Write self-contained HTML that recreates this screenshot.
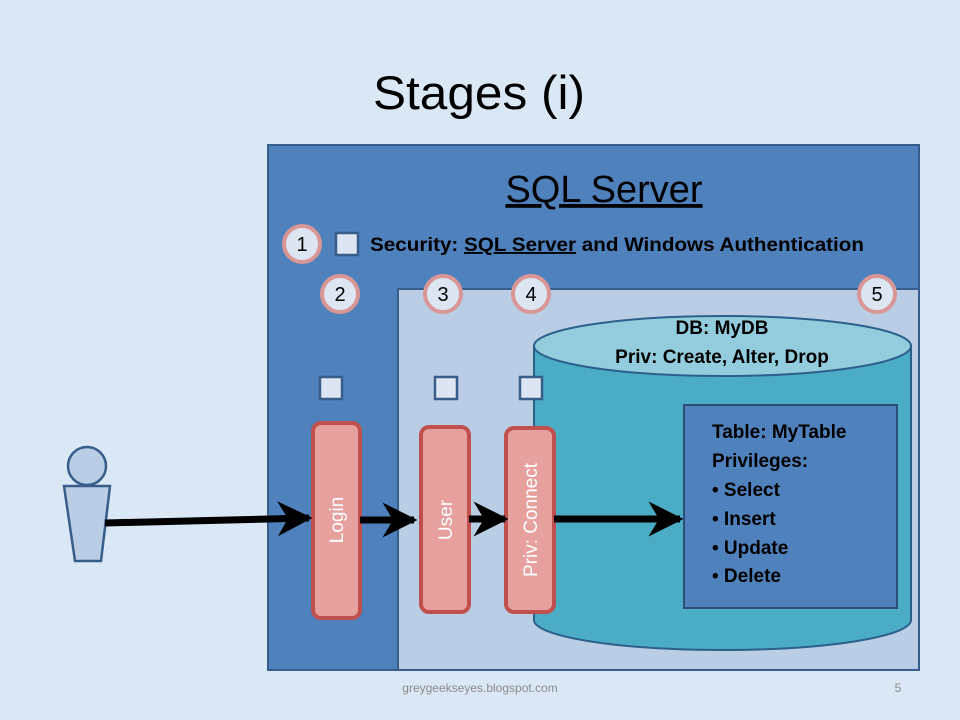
<!DOCTYPE html>
<html><head><style>
html,body{margin:0;padding:0;}
body{width:960px;height:720px;background:#d9e7f6;overflow:hidden;}
svg{display:block;font-family:"Liberation Sans",sans-serif;}
</style></head><body>
<svg width="960" height="720" viewBox="0 0 960 720">
<defs>
<marker id="ah" viewBox="0 0 10 10" refX="9" refY="5" markerWidth="5" markerHeight="5" orient="auto" markerUnits="strokeWidth">
<path d="M0,0 L10,5 L0,10 L3,5 z" fill="#000"/>
</marker>
</defs>
<rect width="960" height="720" fill="#dae8f6"/>
<text x="479" y="109" font-size="47" text-anchor="middle" fill="#000" textLength="212" lengthAdjust="spacingAndGlyphs">Stages (i)</text>
<rect x="268" y="145" width="651" height="525" fill="#4f81bd" stroke="#385d8a" stroke-width="2"/>
<text x="604" y="202" font-size="38" text-anchor="middle" fill="#000" text-decoration="underline">SQL Server</text>
<rect x="398" y="289" width="521" height="381" fill="#b9cde5" stroke="#385d8a" stroke-width="2"/>
<path d="M534,346 L534,620 A188.5,30 0 0 0 911,620 L911,346 Z" fill="#4bacc6" stroke="#2c5f8a" stroke-width="2"/>
<ellipse cx="722.5" cy="346" rx="188.5" ry="30" fill="#93cddd" stroke="#2c5f8a" stroke-width="2"/>
<text x="722" y="334" font-size="19" text-anchor="middle" font-weight="bold" fill="#000">DB: MyDB</text>
<text x="722" y="363" font-size="19" text-anchor="middle" font-weight="bold" fill="#000">Priv: Create, Alter, Drop</text>
<rect x="684" y="405" width="213" height="203" fill="#4f81bd" stroke="#2c4d75" stroke-width="2"/>
<g font-size="19" font-weight="bold" fill="#000">
<text x="712" y="438">Table: MyTable</text>
<text x="712" y="467">Privileges:</text>
<text x="712" y="496">• Select</text>
<text x="712" y="525">• Insert</text>
<text x="712" y="554">• Update</text>
<text x="712" y="582">• Delete</text>
</g>
<text x="370" y="251" font-size="19" font-weight="bold" fill="#000" textLength="494" lengthAdjust="spacingAndGlyphs">Security: <tspan text-decoration="underline">SQL Server</tspan> and Windows Authentication</text>
<g stroke="#d99694" stroke-width="4" fill="#dce6f2">
<circle cx="302" cy="244" r="18"/><circle cx="340" cy="294" r="18"/><circle cx="443" cy="294" r="18"/><circle cx="531" cy="294" r="18"/><circle cx="877" cy="294" r="18"/>
</g>
<g font-size="20" text-anchor="middle" fill="#000">
<text x="302" y="251">1</text><text x="340" y="301">2</text><text x="443" y="301">3</text><text x="531" y="301">4</text><text x="877" y="301">5</text>
</g>
<g fill="#dce6f2" stroke="#385d8a" stroke-width="2.5">
<rect x="336" y="233" width="22" height="22"/><rect x="320" y="377" width="22" height="22"/><rect x="435" y="377" width="22" height="22"/><rect x="520" y="377" width="22" height="22"/>
</g>
<g fill="#e6a09e" stroke="#c0504d" stroke-width="4">
<rect x="313" y="423" width="47" height="195" rx="8"/>
<rect x="421" y="427" width="48" height="185" rx="8"/>
<rect x="506" y="428" width="48" height="184" rx="8"/>
</g>
<g font-size="19" fill="#fff" text-anchor="middle">
<text transform="translate(343,520) rotate(-90)">Login</text>
<text transform="translate(452,520) rotate(-90)">User</text>
<text transform="translate(537,520) rotate(-90)">Priv: Connect</text>
</g>
<circle cx="87" cy="466" r="19" fill="#b9cde5" stroke="#385d8a" stroke-width="2.5"/>
<path d="M64,486 L110,486 L101,561 L75,561 Z" fill="#b9cde5" stroke="#385d8a" stroke-width="2.5"/>
<g stroke="#000" stroke-width="7" marker-end="url(#ah)">
<line x1="105" y1="523" x2="309" y2="518"/>
<line x1="360" y1="520" x2="414" y2="520"/>
<line x1="469" y1="519" x2="505" y2="519"/>
<line x1="554" y1="519" x2="680" y2="519"/>
</g>
<text x="480" y="692" font-size="12" text-anchor="middle" fill="#8a8a8a">greygeekseyes.blogspot.com</text>
<text x="898" y="692" font-size="12" text-anchor="middle" fill="#8a8a8a">5</text>
</svg>
</body></html>
